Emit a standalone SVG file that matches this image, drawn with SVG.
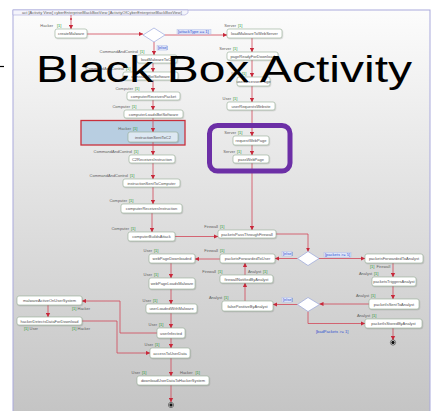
<svg xmlns="http://www.w3.org/2000/svg" width="443" height="411" viewBox="0 0 443 411">
  <defs>
    <linearGradient id="bg" x1="0" y1="0" x2="0" y2="1">
      <stop offset="0" stop-color="#fcfcfc"/>
      <stop offset="0.45" stop-color="#e2e2e2"/>
      <stop offset="1" stop-color="#c4c4c4"/>
    </linearGradient>
    <marker id="arr" markerUnits="userSpaceOnUse" markerWidth="5" markerHeight="5" refX="4" refY="2.5" orient="auto">
      <path d="M0,0.4 L4.2,2.5 L0,4.6 Z" fill="#c8283a"/>
    </marker>
    <filter id="sh" x="-10%" y="-20%" width="130%" height="160%">
      <feDropShadow dx="0.6" dy="0.8" stdDeviation="0.5" flood-color="#000" flood-opacity="0.18"/>
    </filter>
  </defs>
  <style>
    .node rect.box { fill: #ffffff; stroke: #93ab93; stroke-width: 0.6; filter: url(#sh); }
    .node text.nm { font-family: "Liberation Sans", Arial, sans-serif; font-size: 4px; fill: #505050; text-anchor: middle; }
    .role { font-family: "Liberation Sans", Arial, sans-serif; font-size: 4px; fill: #606060; }
    .mult { font-family: "Liberation Sans", Arial, sans-serif; font-size: 4px; fill: #2f9a3a; }
    .guard { font-family: "Liberation Sans", Arial, sans-serif; font-size: 4px; fill: #3050d0; }
    .gbg { fill: #dfe6f8; stroke: #a9b8e6; stroke-width: 0.4; }
    .flow { fill: none; stroke: #d24658; stroke-width: 0.8; marker-end: url(#arr); }
    .dec { fill: #ffffff; stroke: #8c9ad8; stroke-width: 0.6; }
  </style>

  <!-- page and frame -->
  <rect x="0" y="0" width="443" height="411" fill="#ffffff"/>
  <rect x="13" y="10" width="417" height="405" fill="url(#bg)" stroke="#a9a9dc" stroke-width="1"/>
  <path d="M13,10 H188 V13 L185,15 H13 Z" fill="#f4f4fb" stroke="#a9a9dc" stroke-width="0.6"/>
  <text x="22" y="13.6" class="role" font-size="3.6" fill="#4a4ab0">act [Activity View] cyberEnterpriseBlackBoxView [ActivityOfCyberEnterpriseBlackBoxView]</text>

  <!-- highlighted partition -->
  <rect x="81" y="120.5" width="104" height="24.5" fill="#b8cee1" stroke="#c9303c" stroke-width="1.3"/>

  <!-- connectors -->
  <g id="connectors">
    <circle cx="71" cy="19" r="1" fill="#c8283a"/>
    <path class="flow" d="M71,15 V29"/>
    <path class="flow" d="M87,34 H143"/>
    <path class="flow" d="M165,35 H227"/>
    <path class="flow" d="M154,42 V55"/>
    <path class="flow" d="M153,63 V72"/>
    <path class="flow" d="M153,80 V92"/>
    <path class="flow" d="M153,100 V110"/>
    <path class="flow" d="M153,118 V132"/>
    <path class="flow" d="M153,142 V155"/>
    <path class="flow" d="M153,163 V179"/>
    <path class="flow" d="M153,187 V204"/>
    <path class="flow" d="M152,213 V232"/>
    <path class="flow" d="M175,236.5 H218"/>
    <path class="flow" d="M252,38 V52"/>
    <path class="flow" d="M252,60 V77"/>
    <path class="flow" d="M252,86 V102"/>
    <path class="flow" d="M252,110 V136"/>
    <path class="flow" d="M252,145 V155"/>
    <path class="flow" d="M252,163 V230"/>
    <path class="flow" d="M276,234 H308 V251.5"/>
    <path class="flow" d="M319,258.5 H365"/>
    <path class="flow" d="M297.5,258.5 H275"/>
    <path class="flow" d="M220,259 H195"/>
    <path class="flow" d="M393,263 V277"/>
    <path class="flow" d="M393,286 V299"/>
    <path class="flow" d="M369,304 H319.5"/>
    <path class="flow" d="M297.5,304.5 H273"/>
    <path class="flow" d="M308,311.5 V323.5 H365"/>
    <path class="flow" d="M393,328 V340"/>
    <path class="flow" d="M245,301 V283"/>
    <path class="flow" d="M245,275 V263"/>
    <path class="flow" d="M171,263 V278"/>
    <path class="flow" d="M171,289 V304"/>
    <path class="flow" d="M171,313 V328"/>
    <path class="flow" d="M171,338 V348"/>
    <path class="flow" d="M171,358 V376"/>
    <path class="flow" d="M171,385 V402"/>
    <path class="flow" d="M157,333 H120 V301 H82"/>
    <path class="flow" d="M48,305 V317"/>
    <path class="flow" d="M82,321 H117 V353 H150"/>
  </g>

  <!-- guards -->
  <g id="guards">
    <rect class="gbg" x="177" y="29.5" width="34" height="4.6"/>
    <text class="guard" x="178" y="33">[attackType == 1]</text>
    <rect class="gbg" x="157" y="45.5" width="10" height="4.6"/>
    <text class="guard" x="158" y="49">[else]</text>
    <rect class="gbg" x="324" y="252.5" width="27" height="4.6"/>
    <text class="guard" x="325" y="256">[packets &gt;= 5]</text>
    <rect class="gbg" x="282" y="251.5" width="10" height="4.6"/>
    <text class="guard" x="283" y="255">[else]</text>
    <rect class="gbg" x="282" y="297.5" width="10" height="4.6"/>
    <text class="guard" x="283" y="301">[else]</text>
    <text class="guard" x="316" y="333">[badPackets &gt;= 1]</text>
  </g>

  <!-- decisions -->
  <g id="decision1"><path class="dec" d="M143,35 L154,28 L165,35 L154,42 Z"/></g>
  <g id="decision2"><path class="dec" d="M297.5,258.5 L308,251.5 L319,258.5 L308,265.5 Z"/></g>
  <g id="decision3"><path class="dec" d="M297.5,304.5 L308,297.5 L319.5,304.5 L308,311.5 Z"/></g>

  <!-- actions: left branch -->
  <g id="createMalware" class="node">
    <rect class="box" x="55" y="29" width="32" height="9" rx="2"/>
    <text class="nm" x="71" y="35">createMalware</text>
    <text class="role" x="53" y="27" text-anchor="end">Hacker</text><text class="mult" x="57" y="27">[1]</text>
  </g>
  <g id="loadMalwareToC2" class="node">
    <rect class="box" x="137" y="55" width="40" height="8" rx="2"/>
    <text class="nm" x="157" y="60.5">loadMalwareToC2</text>
    <text class="role" x="138" y="53" text-anchor="end">CommandAndControl</text><text class="mult" x="140" y="53">[1]</text>
  </g>
  <g id="c2InstallsBotSoftware" class="node">
    <rect class="box" x="123" y="72" width="55" height="8" rx="2"/>
    <text class="nm" x="150.5" y="77.5">c2InstallsBotSoftware</text>
    <text class="role" x="124" y="70" text-anchor="end">CommandAndControl</text><text class="mult" x="126" y="70">[1]</text>
  </g>
  <g id="computerReceivesPacket" class="node">
    <rect class="box" x="127" y="92" width="53" height="8" rx="2"/>
    <text class="nm" x="153.5" y="97.5">computerReceivesPacket</text>
    <text class="role" x="133" y="90" text-anchor="end">Computer</text><text class="mult" x="135" y="90">[1]</text>
  </g>
  <g id="computerLoadsBotSoftware" class="node">
    <rect class="box" x="124" y="110" width="59" height="8" rx="2"/>
    <text class="nm" x="153.5" y="115.5">computerLoadsBotSoftware</text>
    <text class="role" x="130" y="108" text-anchor="end">Computer</text><text class="mult" x="132" y="108">[1]</text>
  </g>
  <g id="instructionSentToC2" class="node">
    <rect class="box" x="128" y="132" width="50" height="10" rx="2" style="fill:#dde8f2"/>
    <text class="nm" x="153" y="138.5">instructionSentToC2</text>
    <text class="role" x="131" y="130" text-anchor="end">Hacker</text><text class="mult" x="133" y="130">[1]</text>
  </g>
  <g id="C2ReceivesInstruction" class="node">
    <rect class="box" x="129" y="155" width="46" height="8" rx="2"/>
    <text class="nm" x="152" y="160.5">C2ReceivesInstruction</text>
    <text class="role" x="132" y="153" text-anchor="end">CommandAndControl</text><text class="mult" x="134" y="153">[1]</text>
  </g>
  <g id="instructionSentToComputer" class="node">
    <rect class="box" x="123" y="179" width="57" height="8" rx="2"/>
    <text class="nm" x="151.5" y="184.5">instructionSentToComputer</text>
    <text class="role" x="128" y="177" text-anchor="end">CommandAndControl</text><text class="mult" x="130" y="177">[1]</text>
  </g>
  <g id="computerReceivesInstruction" class="node">
    <rect class="box" x="121" y="204" width="61" height="9" rx="2"/>
    <text class="nm" x="151.5" y="210">computerReceivesInstruction</text>
    <text class="role" x="127" y="202" text-anchor="end">Computer</text><text class="mult" x="129" y="202">[1]</text>
  </g>
  <g id="computerBuildsAttack" class="node">
    <rect class="box" x="128" y="232" width="47" height="9" rx="2"/>
    <text class="nm" x="151.5" y="238">computerBuildsAttack</text>
    <text class="role" x="129" y="230" text-anchor="end">Computer</text><text class="mult" x="131" y="230">[1]</text>
  </g>

  <!-- actions: web server branch -->
  <g id="loadMalwareToWebServer" class="node">
    <rect class="box" x="227" y="29" width="55" height="9" rx="2"/>
    <text class="nm" x="254.5" y="35">loadMalwareToWebServer</text>
    <text class="role" x="236" y="27" text-anchor="end">Server</text><text class="mult" x="238" y="27">[1]</text>
  </g>
  <g id="pageReadyForDownload" class="node">
    <rect class="box" x="227" y="52" width="51" height="8" rx="2"/>
    <text class="nm" x="252.5" y="57.5">pageReadyForDownload</text>
    <text class="role" x="231" y="50" text-anchor="end">Server</text><text class="mult" x="233" y="50">[1]</text>
  </g>
  <g id="userAccessesPage" class="node">
    <rect class="box" x="237" y="77" width="33" height="9" rx="2"/>
    <text class="nm" x="253.5" y="83">userAccessesPage</text>
    <text class="role" x="240" y="75" text-anchor="end">User</text><text class="mult" x="242" y="75">[1]</text>
  </g>
  <g id="userRequestsWebsite" class="node">
    <rect class="box" x="227" y="102" width="48" height="8" rx="2"/>
    <text class="nm" x="251" y="107.5">userRequestsWebsite</text>
    <text class="role" x="231" y="100" text-anchor="end">User</text><text class="mult" x="233" y="100">[1]</text>
  </g>
  <g id="requestWebPage" class="node">
    <rect class="box" x="233" y="136" width="36" height="9" rx="2"/>
    <text class="nm" x="251" y="142">requestWebPage</text>
    <text class="role" x="236" y="134" text-anchor="end">Server</text><text class="mult" x="238" y="134">[1]</text>
  </g>
  <g id="passWebPage" class="node">
    <rect class="box" x="233" y="155" width="36" height="8" rx="2"/>
    <text class="nm" x="251" y="160.5">passWebPage</text>
    <text class="role" x="235" y="153" text-anchor="end">Server</text><text class="mult" x="237" y="153">[1]</text>
  </g>

  <!-- actions: firewall and analyst -->
  <g id="packetsPassThroughFirewall" class="node">
    <rect class="box" x="218" y="230" width="58" height="8" rx="2"/>
    <text class="nm" x="247" y="235.5">packetsPassThroughFirewall</text>
    <text class="role" x="218" y="228" text-anchor="end">Firewall</text><text class="mult" x="220" y="228">[1]</text>
  </g>
  <g id="packetsForwardedToUser" class="node">
    <rect class="box" x="220" y="254" width="55" height="9" rx="2"/>
    <text class="nm" x="247.5" y="260">packetsForwardedToUser</text>
    <text class="role" x="218" y="252" text-anchor="end">Firewall</text><text class="mult" x="220" y="252">[1]</text>
  </g>
  <g id="firewallNotifiedByAnalyst" class="node">
    <rect class="box" x="220" y="275" width="53" height="8" rx="2"/>
    <text class="nm" x="246.5" y="280.5">firewallNotifiedByAnalyst</text>
    <text class="role" x="216" y="273" text-anchor="end">Firewall</text><text class="mult" x="218" y="273">[1]</text>
    <text class="role" x="261" y="273" text-anchor="end">Analyst</text><text class="mult" x="263" y="273">[1]</text>
  </g>
  <g id="falsePositiveByAnalyst" class="node">
    <rect class="box" x="222" y="301" width="51" height="10" rx="2"/>
    <text class="nm" x="247.5" y="307.5">falsePositiveByAnalyst</text>
    <text class="role" x="222" y="299" text-anchor="end">Analyst</text><text class="mult" x="224" y="299">[1]</text>
  </g>
  <g id="packetsForwardedToAnalyst" class="node">
    <rect class="box" x="365" y="254" width="58" height="9" rx="2"/>
    <text class="nm" x="394" y="260">packetsForwardedToAnalyst</text>
    <text class="mult" x="370" y="268">[1]</text><text class="role" x="376.5" y="268">Firewall</text>
  </g>
  <g id="packetsTriggersAnalyst" class="node">
    <rect class="box" x="372" y="277" width="44" height="9" rx="2"/>
    <text class="nm" x="394" y="283">packetsTriggersAnalyst</text>
    <text class="role" x="372" y="275" text-anchor="end">Analyst</text><text class="mult" x="374" y="275">[1]</text>
  </g>
  <g id="packetIsSentToAnalyst" class="node">
    <rect class="box" x="369" y="299" width="50" height="10" rx="2"/>
    <text class="nm" x="394" y="305.5">packetIsSentToAnalyst</text>
    <text class="role" x="369" y="297" text-anchor="end">Analyst</text><text class="mult" x="371" y="297">[1]</text>
  </g>
  <g id="packetIsStoredByAnalyst" class="node">
    <rect class="box" x="365" y="319" width="57" height="9" rx="2"/>
    <text class="nm" x="393.5" y="325">packetIsStoredByAnalyst</text>
    <text class="role" x="370" y="317" text-anchor="end">Analyst</text><text class="mult" x="372" y="317">[1]</text>
  </g>
  <g id="finalAnalyst">
    <circle cx="393" cy="342.5" r="2.6" fill="#ffffff" stroke="#222" stroke-width="0.6"/>
    <circle cx="393" cy="342.5" r="1.7" fill="#111"/>
  </g>

  <!-- actions: user branch -->
  <g id="webPageDownloaded" class="node">
    <rect class="box" x="149" y="254" width="46" height="9" rx="2"/>
    <text class="nm" x="172" y="260">webPageDownloaded</text>
    <text class="role" x="152" y="252" text-anchor="end">User</text><text class="mult" x="154" y="252">[1]</text>
  </g>
  <g id="webPageLoadsMalware" class="node">
    <rect class="box" x="149" y="278" width="46" height="11" rx="2"/>
    <text class="nm" x="172" y="285">webPageLoadsMalware</text>
    <text class="role" x="152" y="276" text-anchor="end">User</text><text class="mult" x="154" y="276">[1]</text>
  </g>
  <g id="userLoadedWithMalware" class="node">
    <rect class="box" x="146" y="304" width="51" height="9" rx="2"/>
    <text class="nm" x="171.5" y="310">userLoadedWithMalware</text>
    <text class="role" x="151" y="302" text-anchor="end">User</text><text class="mult" x="153" y="302">[1]</text>
  </g>
  <g id="userInfected" class="node">
    <rect class="box" x="157" y="328" width="28" height="10" rx="2"/>
    <text class="nm" x="171" y="334.5">userInfected</text>
    <text class="role" x="157" y="326" text-anchor="end">User</text><text class="mult" x="159" y="326">[1]</text>
  </g>
  <g id="accessToUserData" class="node">
    <rect class="box" x="150" y="348" width="40" height="10" rx="2"/>
    <text class="nm" x="170" y="354.5">accessToUserData</text>
    <text class="role" x="153" y="346" text-anchor="end">User</text><text class="mult" x="155" y="346">[1]</text>
  </g>
  <g id="downloadUserDataToHackerSystem" class="node">
    <rect class="box" x="137" y="376" width="72" height="9" rx="2"/>
    <text class="nm" x="173" y="382">downloadUserDataToHackerSystem</text>
    <text class="role" x="140" y="374" text-anchor="end">User</text><text class="mult" x="142" y="374">[1]</text>
    <text class="role" x="180" y="374">Hacker</text><text class="mult" x="195.5" y="374">[1]</text>
  </g>
  <g id="finalUser">
    <circle cx="171" cy="405" r="2.6" fill="#ffffff" stroke="#222" stroke-width="0.6"/>
    <circle cx="171" cy="405" r="1.7" fill="#111"/>
  </g>
  <g id="malwareActiveOnUserSystem" class="node">
    <rect class="box" x="17" y="296" width="65" height="9" rx="2"/>
    <text class="nm" x="49.5" y="302">malwareActiveOnUserSystem</text>
    <text class="mult" x="72" y="309.5">[1]</text><text class="role" x="77.5" y="309.5">Hacker</text>
  </g>
  <g id="hackerDetectsDataForDownload" class="node">
    <rect class="box" x="17" y="317" width="65" height="8" rx="2"/>
    <text class="nm" x="49.5" y="322.5">hackerDetectsDataForDownload</text>
    <text class="mult" x="24" y="330">[1]</text><text class="role" x="29.5" y="330">User</text>
    <text class="mult" x="72" y="330">[1]</text><text class="role" x="77.5" y="330">Hacker</text>
  </g>

  <!-- server-side grouping -->
  <rect x="209.5" y="125.5" width="80.5" height="45.5" rx="8" fill="none" stroke="#6c2fa6" stroke-width="5"/>

  <!-- slide marker and title -->
  <line x1="0" y1="66.5" x2="4" y2="66.5" stroke="#000" stroke-width="1.2"/>
  <text x="36" y="82" font-family="Liberation Sans, Arial, sans-serif" font-size="36" fill="#000" textLength="376" lengthAdjust="spacingAndGlyphs">Black Box Activity</text>
</svg>
